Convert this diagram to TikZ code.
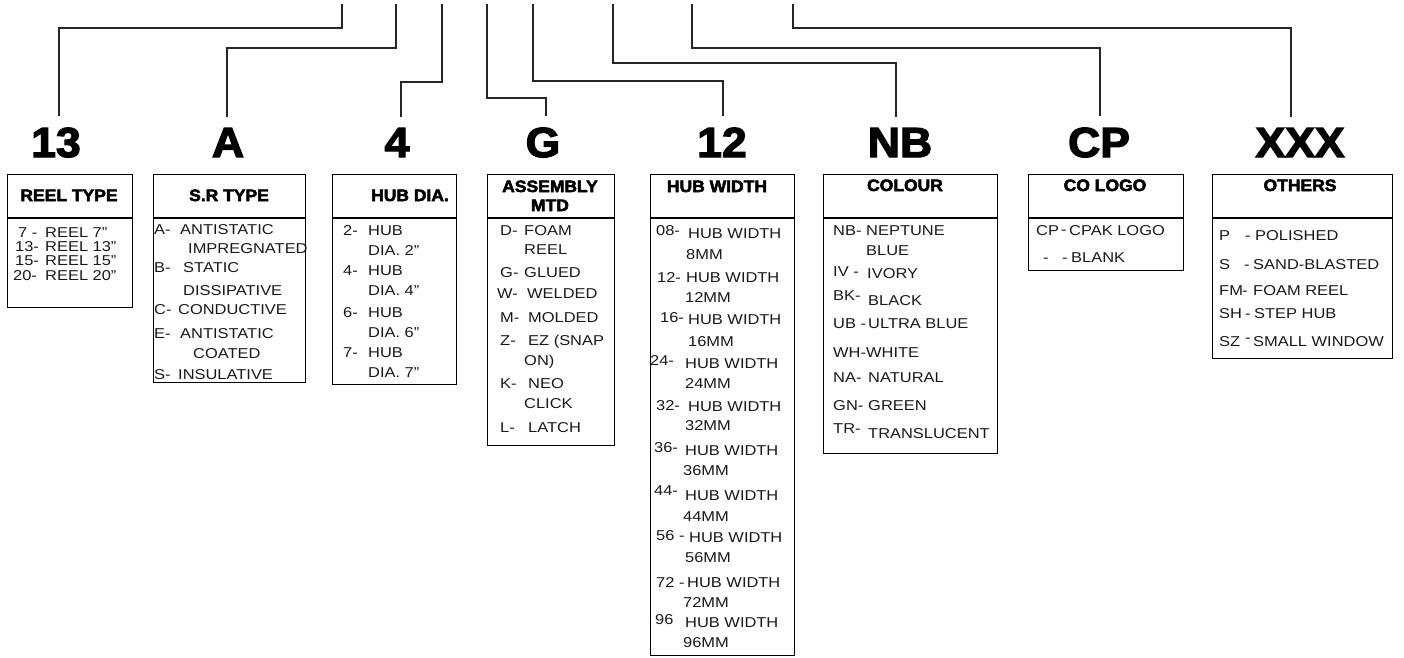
\documentclass[tikz,border=0pt]{standalone}
\usepackage{fontspec}
\setmainfont{Liberation Sans}[FakeStretch=1.15]
\newfontfamily\heavy{Liberation Sans}[FakeStretch=1.06,FakeBold=3]
\newcounter{tn}
\tikzset{
  box/.style={draw=black, line width=1.4pt, inner sep=0pt, anchor=north west},
  divline/.style={draw=black, line width=1.3pt},
  conn/.style={draw=black!85, line width=1.6pt},
  big/.style={font=\heavy\bfseries\fontsize{42}{42}\selectfont, inner sep=0pt, anchor=base},
  hd/.style={font=\heavy\bfseries\fontsize{16.5}{18}\selectfont, inner sep=0pt, anchor=base},
  txt/.style={font=\fontsize{14.3}{14}\selectfont, inner sep=0pt, anchor=base west, text=black!90}
}
\newcommand\tx[3]{\stepcounter{tn}\node[txt] (txt\arabic{tn}) at (#1,#2+5) {#3};}
\newcommand\hdr[3]{\stepcounter{tn}\node[hd] (hd\arabic{tn}) at (#1,#2+6) {#3};}
\begin{document}
\begin{tikzpicture}[x=1pt,y=-1pt]
\fill[white] (0,0) rectangle (1404,657);
\useasboundingbox (0,0) rectangle (1404,657);

% big code labels
\node[big] (L1) at (56,157) {13};
\node[big] (L2) at (228,157) {A};
\node[big] (L3) at (397,157) {4};
\node[big] (L4) at (543,157) {G};
\node[big] (L5) at (722,157) {12};
\node[big] (L6) at (900,157) {NB};
\node[big] (L7) at (1099,157) {CP};
\node[big] (L8) at (1300,157) {XXX};

% top free ends
\coordinate (t1) at (342,4);
\coordinate (t2) at (396,4);
\coordinate (t3) at (442,4);
\coordinate (t4) at (487,4);
\coordinate (t5) at (533,4);
\coordinate (t6) at (613,4);
\coordinate (t7) at (692,4);
\coordinate (t8) at (793,4);

% connectors
\draw[conn,shorten >=11pt] (t1) -- ++(0,24) -| ([xshift=3pt]L1.north);
\draw[conn,shorten >=11pt] (t2) -- ++(0,44) -| ([xshift=-1pt]L2.north);
\draw[conn,shorten >=11pt] (t3) -- ++(0,78) -| ([xshift=4pt]L3.north);
\draw[conn,shorten >=11pt] (t4) -- ++(0,94) -| ([xshift=3pt]L4.north);
\draw[conn,shorten >=11pt] (t5) -- ++(0,77) -| ([xshift=1pt]L5.north);
\draw[conn,shorten >=11pt] (t6) -- ++(0,59) -| ([xshift=-4pt]L6.north);
\draw[conn,shorten >=11pt] (t7) -- ++(0,44) -| ([xshift=1pt]L7.north);
\draw[conn,shorten >=11pt] (t8) -- ++(0,24) -| ([xshift=-9pt]L8.north);

% boxes
\node[box, minimum width=125pt, minimum height=133pt] (B1) at (7,174) {};
\node[box, minimum width=152pt, minimum height=208pt] (B2) at (153,174) {};
\node[box, minimum width=124pt, minimum height=210pt] (B3) at (332,174) {};
\node[box, minimum width=127pt, minimum height=271pt] (B4) at (487,174) {};
\node[box, minimum width=144pt, minimum height=481pt] (B5) at (650,174) {};
\node[box, minimum width=174pt, minimum height=279pt] (B6) at (823,174) {};
\node[box, minimum width=155pt, minimum height=96pt] (B7) at (1028,174) {};
\node[box, minimum width=180pt, minimum height=184pt] (B8) at (1212,174) {};
\foreach \b in {B1,B2,B3,B4,B5,B6,B7,B8}
  \draw[divline] ([yshift=-44pt]\b.north west) -- ([yshift=-44pt]\b.north east);

% headers
\hdr{69}{195}{REEL TYPE}
\hdr{229}{195}{S.R TYPE}
\hdr{410}{195}{HUB DIA.}
\hdr{550}{186}{ASSEMBLY}
\hdr{550}{205}{MTD}
\hdr{717}{186}{HUB WIDTH}
\hdr{905}{185}{COLOUR}
\hdr{1105}{185}{CO LOGO}
\hdr{1300}{185}{OTHERS}

% REEL TYPE
\tx{18}{232}{7 -}\tx{45}{232}{REEL 7"}
\tx{15}{246}{13-}\tx{45}{246}{REEL 13"}
\tx{15}{260}{15-}\tx{45}{260}{REEL 15"}
\tx{13}{275}{20-}\tx{45}{275}{REEL 20"}

% S.R TYPE
\tx{154}{229}{A-}\tx{180}{229}{ANTISTATIC}
\tx{188}{248}{IMPREGNATED}
\tx{154}{267}{B-}\tx{183}{267}{STATIC}
\tx{183}{290}{DISSIPATIVE}
\tx{154}{309}{C-}\tx{178}{309}{CONDUCTIVE}
\tx{154}{333}{E-}\tx{180}{333}{ANTISTATIC}
\tx{193}{353}{COATED}
\tx{154}{374}{S-}\tx{178}{374}{INSULATIVE}

% HUB DIA
\tx{343}{230}{2-}\tx{368}{230}{HUB}
\tx{368}{250}{DIA. 2"}
\tx{343}{270}{4-}\tx{368}{270}{HUB}
\tx{368}{290}{DIA. 4"}
\tx{343}{312}{6-}\tx{368}{312}{HUB}
\tx{368}{332}{DIA. 6"}
\tx{343}{352}{7-}\tx{368}{352}{HUB}
\tx{368}{372}{DIA. 7"}

% ASSEMBLY MTD
\tx{500}{230}{D-}\tx{524}{230}{FOAM}
\tx{524}{249}{REEL}
\tx{500}{272}{G-}\tx{524}{272}{GLUED}
\tx{497}{293}{W-}\tx{527}{293}{WELDED}
\tx{500}{317}{M-}\tx{528}{317}{MOLDED}
\tx{500}{340}{Z-}\tx{528}{340}{EZ (SNAP}
\tx{524}{360}{ON)}
\tx{500}{383}{K-}\tx{528}{383}{NEO}
\tx{524}{403}{CLICK}
\tx{500}{427}{L-}\tx{528}{427}{LATCH}

% HUB WIDTH
\tx{656}{230}{08-}\tx{688}{233}{HUB WIDTH}
\tx{686}{254}{8MM}
\tx{657}{277}{12-}\tx{686}{277}{HUB WIDTH}
\tx{685}{297}{12MM}
\tx{660}{317}{16-}\tx{688}{319}{HUB WIDTH}
\tx{688}{341}{16MM}
\tx{650}{360}{24-}\tx{685}{363}{HUB WIDTH}
\tx{685}{383}{24MM}
\tx{656}{405}{32-}\tx{688}{406}{HUB WIDTH}
\tx{685}{425}{32MM}
\tx{654}{447}{36-}\tx{685}{450}{HUB WIDTH}
\tx{683}{470}{36MM}
\tx{654}{490}{44-}\tx{685}{495}{HUB WIDTH}
\tx{683}{516}{44MM}
\tx{656}{535}{56 -}\tx{689}{537}{HUB WIDTH}
\tx{685}{557}{56MM}
\tx{656}{582}{72 -}\tx{687}{582}{HUB WIDTH}
\tx{683}{602}{72MM}
\tx{655}{619}{96}\tx{685}{622}{HUB WIDTH}
\tx{683}{642}{96MM}

% COLOUR
\tx{833}{230}{NB-}\tx{866}{230}{NEPTUNE}
\tx{866}{250}{BLUE}
\tx{833}{271}{IV -}\tx{867}{273}{IVORY}
\tx{833}{295}{BK-}\tx{868}{300}{BLACK}
\tx{833}{323}{UB -}\tx{868}{323}{ULTRA BLUE}
\tx{833}{352}{WH-}\tx{866}{352}{WHITE}
\tx{833}{377}{NA-}\tx{868}{377}{NATURAL}
\tx{833}{405}{GN-}\tx{868}{405}{GREEN}
\tx{833}{428}{TR-}\tx{868}{433}{TRANSLUCENT}

% CO LOGO
\tx{1036}{230}{CP}\tx{1061}{229}{-}\tx{1069}{230}{CPAK LOGO}
\tx{1043}{257}{-}\tx{1062}{257}{-}\tx{1071}{257}{BLANK}

% OTHERS
\tx{1219}{235}{P}\tx{1245}{235}{-}\tx{1255}{235}{POLISHED}
\tx{1219}{264}{S}\tx{1244}{264}{-}\tx{1253}{264}{SAND-BLASTED}
\tx{1219}{290}{FM}\tx{1242}{290}{-}\tx{1253}{290}{FOAM REEL}
\tx{1219}{313}{SH}\tx{1245}{313}{-}\tx{1254}{313}{STEP HUB}
\tx{1219}{341}{SZ}\tx{1245}{337}{-}\tx{1253}{341}{SMALL WINDOW}
\end{tikzpicture}
\end{document}
